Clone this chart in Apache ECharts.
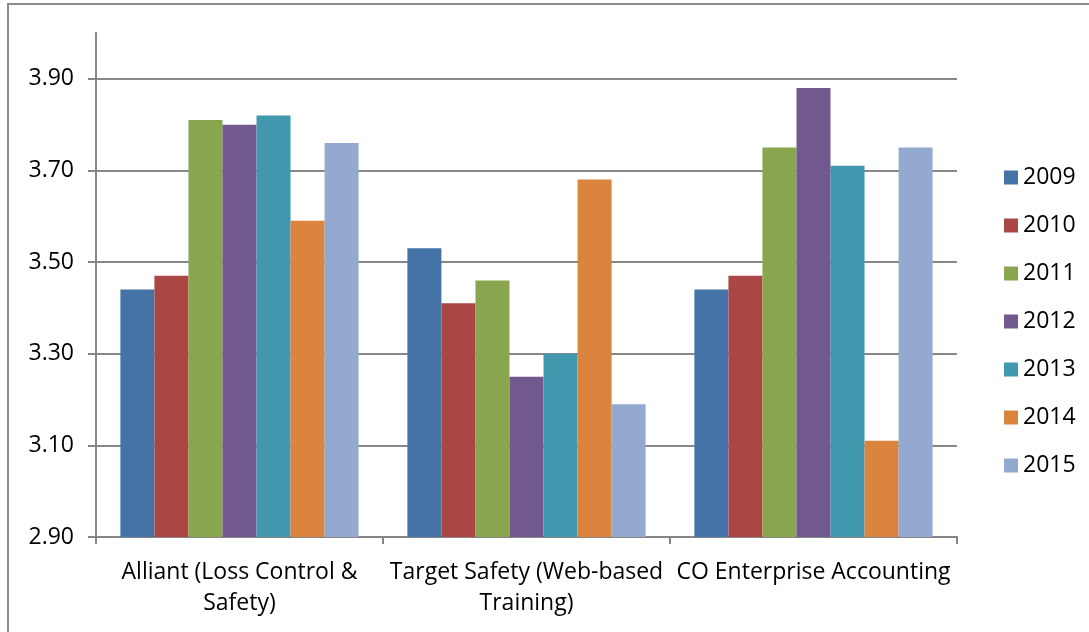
<!DOCTYPE html>
<html>
<head>
<meta charset="utf-8">
<script src="https://cdn.jsdelivr.net/npm/echarts@6/dist/echarts.min.js"></script>
<style>
html,body{margin:0;padding:0;background:#fff;overflow:hidden;}
#frame{position:absolute;left:7px;top:3px;width:1200px;height:700px;border:2px solid #8c8c8c;}
#chart{position:absolute;left:0;top:0;width:1089px;height:632px;}
</style>
</head>
<body>
<div id="frame"></div>
<div id="chart"></div>
<script>
var categories = ['Alliant (Loss Control &\nSafety)', 'Target Safety (Web-based\nTraining)', 'CO Enterprise Accounting'];
var years = ['2009', '2010', '2011', '2012', '2013', '2014', '2015'];
var d2009 = [3.44, 3.53, 3.44];
var d2010 = [3.47, 3.41, 3.47];
var d2011 = [3.81, 3.46, 3.75];
var d2012 = [3.80, 3.25, 3.88];
var d2013 = [3.82, 3.30, 3.71];
var d2014 = [3.59, 3.68, 3.11];
var d2015 = [3.76, 3.19, 3.75];
var yearData = [d2009, d2010, d2011, d2012, d2013, d2014, d2015];
var colors = ['#4572A7', '#AA4643', '#89A54E', '#71588F', '#4198AF', '#DB843D', '#93A9CF'];

var font = '"Open Sans", sans-serif';
var myChart = echarts.init(document.getElementById('chart'));

var series = years.map(function (y, i) {
    return {
        name: y,
        type: 'bar',
        barGap: 0,
        barCategoryGap: '17%',
        itemStyle: {color: colors[i]},
        data: yearData[i]
    };
});

var option = {
    animation: false,
    color: colors,
    textStyle: {fontFamily: font},
    legend: {
        orient: 'vertical',
        left: 999,
        top: 161,
        itemWidth: 14,
        itemHeight: 14,
        itemGap: 25,
        itemTextGap: 7,
        icon: 'rect',
        textStyle: {fontSize: 23, color: '#000', fontFamily: font},
        data: years
    },
    grid: {
        left: 96,
        right: 132,
        top: 33,
        bottom: 95
    },
    xAxis: {
        type: 'category',
        data: categories,
        axisLine: {lineStyle: {color: '#868686', width: 2}},
        axisTick: {show: true, length: 7, lineStyle: {color: '#868686', width: 2}},
        axisLabel: {
            interval: 0,
            color: '#000',
            fontSize: 23,
            fontFamily: font,
            lineHeight: 31,
            margin: 20
        }
    },
    yAxis: {
        type: 'value',
        min: 2.9,
        max: 4.0,
        interval: 0.2,
        axisLine: {show: true, lineStyle: {color: '#868686', width: 2}},
        axisTick: {show: true, length: 8, lineStyle: {color: '#868686', width: 2}},
        axisLabel: {
            color: '#000',
            fontSize: 23,
            fontFamily: font,
            margin: 22,
            showMaxLabel: false,
            formatter: function (v) { return v.toFixed(2); }
        },
        splitLine: {
            lineStyle: {
                color: ['#888', '#888', '#888', '#888', '#888', '#888', 'rgba(0,0,0,0)'],
                width: 2
            }
        }
    },
    series: series
};
myChart.setOption(option);
</script>
</body>
</html>
